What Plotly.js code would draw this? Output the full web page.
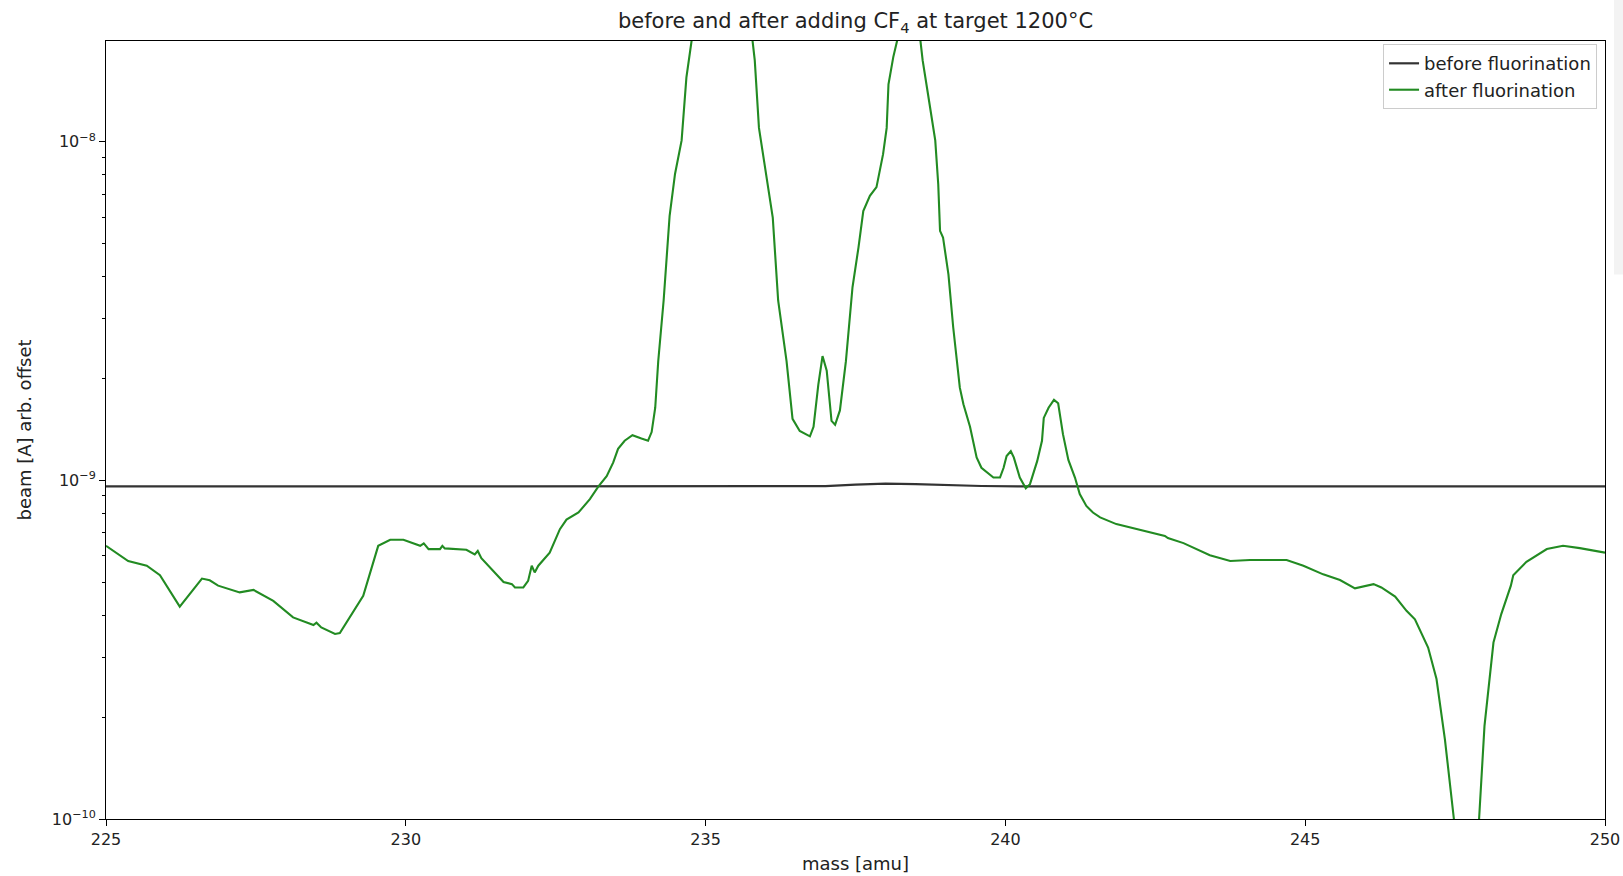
<!DOCTYPE html>
<html>
<head>
<meta charset="utf-8">
<script src="https://cdn.plot.ly/plotly-3.0.1.min.js"></script>
<style>html,body{margin:0;padding:0;background:#fff;}#chart{width:1623px;height:876px;}</style>
</head>
<body>
<div id="chart"></div>
<script>
// before fluorination
const massBefore = [225.0, 237.0, 237.5, 238.0, 238.5, 239.0, 239.6, 240.2, 250.0];
const beamBefore = [9.60e-10, 9.62e-10, 9.72e-10, 9.78e-10, 9.75e-10, 9.68e-10, 9.63e-10, 9.60e-10, 9.60e-10];

// after fluorination
const massAfter = [
  225.00, 225.37, 225.68, 225.90, 226.23, 226.60, 226.73, 226.87, 227.23, 227.46,
  227.79, 228.12, 228.46, 228.51, 228.59, 228.82, 228.90, 229.29, 229.54, 229.74,
  229.96, 230.24, 230.30, 230.38, 230.57, 230.61, 230.65, 231.01, 231.15, 231.20,
  231.26, 231.57, 231.63, 231.77, 231.82, 231.96, 232.04, 232.10, 232.15, 232.21,
  232.40, 232.57, 232.68, 232.88, 233.07, 233.21, 233.35, 233.46, 233.54, 233.65,
  233.78, 233.93, 234.04, 234.10, 234.16, 234.21, 234.30, 234.40, 234.49, 234.60,
  234.63, 234.68, 234.77, 235.00, 235.30, 235.60, 235.78, 235.82, 235.89, 235.99,
  236.12, 236.21, 236.35, 236.45, 236.57, 236.74, 236.80, 236.88, 236.95, 237.02,
  237.10, 237.16, 237.24, 237.34, 237.45, 237.55, 237.63, 237.74, 237.85, 237.96,
  238.02, 238.05, 238.13, 238.20, 238.39, 238.58, 238.62, 238.71, 238.83, 238.88,
  238.91, 238.96, 239.05, 239.13, 239.24, 239.30, 239.41, 239.52, 239.60, 239.80,
  239.91, 239.97, 240.02, 240.09, 240.14, 240.24, 240.34, 240.41, 240.53, 240.61,
  240.64, 240.72, 240.81, 240.88, 240.96, 241.05, 241.16, 241.24, 241.35, 241.46,
  241.58, 241.85, 242.24, 242.66, 242.71, 242.97, 243.41, 243.75, 244.08, 244.41,
  244.69, 244.97, 245.30, 245.58, 245.83, 246.14, 246.27, 246.50, 246.69, 246.83,
  247.05, 247.19, 247.33, 247.48, 247.68, 247.90, 247.99, 248.14, 248.27, 248.43,
  248.47, 248.69, 249.03, 249.30, 249.58, 250.00
];
const beamAfter = [
  6.41e-10, 5.78e-10, 5.60e-10, 5.25e-10, 4.24e-10, 5.13e-10, 5.07e-10, 4.89e-10, 4.67e-10, 4.75e-10,
  4.41e-10, 3.94e-10, 3.74e-10, 3.80e-10, 3.68e-10, 3.52e-10, 3.54e-10, 4.56e-10, 6.41e-10, 6.68e-10,
  6.68e-10, 6.41e-10, 6.52e-10, 6.27e-10, 6.27e-10, 6.41e-10, 6.30e-10, 6.24e-10, 6.05e-10, 6.19e-10,
  5.89e-10, 5.13e-10, 5.01e-10, 4.94e-10, 4.83e-10, 4.83e-10, 5.05e-10, 5.60e-10, 5.35e-10, 5.60e-10,
  6.12e-10, 7.18e-10, 7.66e-10, 8.04e-10, 8.81e-10, 9.59e-10, 1.03e-9, 1.13e-9, 1.24e-9, 1.31e-9,
  1.36e-9, 1.33e-9, 1.31e-9, 1.39e-9, 1.64e-9, 2.25e-9, 3.40e-9, 6.05e-9, 8.04e-9, 1.01e-8,
  1.18e-8, 1.55e-8, 2.01e-8, 3.5e-8, 4.5e-8, 3.2e-8, 2.01e-8, 1.74e-8, 1.10e-8, 8.41e-9,
  5.98e-9, 3.40e-9, 2.25e-9, 1.52e-9, 1.40e-9, 1.35e-9, 1.44e-9, 1.92e-9, 2.33e-9, 2.11e-9,
  1.50e-9, 1.46e-9, 1.61e-9, 2.25e-9, 3.72e-9, 4.88e-9, 6.25e-9, 6.93e-9, 7.35e-9, 9.20e-9,
  1.10e-8, 1.48e-8, 1.78e-8, 2.01e-8, 2.8e-8, 2.01e-8, 1.74e-8, 1.38e-8, 1.01e-8, 7.50e-9,
  5.46e-9, 5.22e-9, 4.06e-9, 2.83e-9, 1.88e-9, 1.68e-9, 1.44e-9, 1.17e-9, 1.09e-9, 1.02e-9,
  1.02e-9, 1.09e-9, 1.18e-9, 1.22e-9, 1.17e-9, 1.02e-9, 9.48e-10, 9.75e-10, 1.14e-9, 1.31e-9,
  1.53e-9, 1.64e-9, 1.73e-9, 1.69e-9, 1.37e-9, 1.15e-9, 1.02e-9, 9.12e-10, 8.41e-10, 8.04e-10,
  7.78e-10, 7.43e-10, 7.14e-10, 6.86e-10, 6.76e-10, 6.53e-10, 6.01e-10, 5.78e-10, 5.82e-10, 5.82e-10,
  5.82e-10, 5.60e-10, 5.28e-10, 5.08e-10, 4.80e-10, 4.94e-10, 4.83e-10, 4.54e-10, 4.12e-10, 3.89e-10,
  3.21e-10, 2.59e-10, 1.72e-10, 1.00e-10, 3.5e-11, 1.00e-10, 1.88e-10, 3.32e-10, 4.03e-10, 4.89e-10,
  5.25e-10, 5.75e-10, 6.27e-10, 6.41e-10, 6.31e-10, 6.12e-10
];

const xTicks = [225, 230, 235, 240, 245, 250];
const yTicks = [1e-10, 1e-9, 1e-8];
const yMinorTicks = [2e-10,3e-10,4e-10,5e-10,6e-10,7e-10,8e-10,9e-10,2e-9,3e-9,4e-9,5e-9,6e-9,7e-9,8e-9,9e-9];

const FONT = "DejaVu Sans, sans-serif";

const traces = [
  {x: massBefore, y: beamBefore, type: 'scatter', mode: 'lines', name: 'before fluorination',
   line: {color: '#333333', width: 2.2}},
  {x: massAfter, y: beamAfter, type: 'scatter', mode: 'lines', name: 'after fluorination',
   line: {color: '#228b22', width: 2.1}}
];

const layout = {
  width: 1623, height: 876,
  margin: {l: 106, r: 18, t: 41, b: 57},
  paper_bgcolor: '#ffffff', plot_bgcolor: '#ffffff',
  font: {family: FONT, color: '#222', size: 15},
  showlegend: true,
  title: {text: 'before and after adding CF<sub>4</sub> at target 1200°C', font: {family: FONT, size: 21, color: '#222'},
          xref: 'paper', x: 0.5, xanchor: 'center', yref: 'container', y: 0.976, yanchor: 'middle'},
  xaxis: {
    range: [225, 250], tickmode: 'array', tickvals: xTicks, ticktext: xTicks.map(String),
    ticks: 'outside', ticklen: 6, tickwidth: 1, tickcolor: '#000',
    showline: true, mirror: true, linecolor: '#000', linewidth: 1,
    showgrid: false, zeroline: false,
    tickfont: {family: FONT, size: 16, color: '#222'},
    title: {text: 'mass [amu]', font: {family: FONT, size: 18, color: '#222'}, standoff: 9}
  },
  yaxis: {
    type: 'log', range: [-10, -7.702], tickmode: 'array', tickvals: yTicks,
    ticktext: ['10<sup>−10</sup>', '10<sup>−9</sup>', '10<sup>−8</sup>'],
    ticks: 'outside', ticklen: 6, tickwidth: 1, tickcolor: '#000',
    minor: {tickmode: 'array', tickvals: yMinorTicks, ticks: 'outside', ticklen: 3.5, tickwidth: 1, tickcolor: '#000', showgrid: false},
    showline: true, mirror: true, linecolor: '#000', linewidth: 1,
    showgrid: false, zeroline: false,
    tickfont: {family: FONT, size: 16, color: '#222'},
    title: {text: 'beam [A] arb. offset', font: {family: FONT, size: 18, color: '#222'}, standoff: 15}
  },
  legend: {
    x: 0.9947, xanchor: 'right', y: 0.996, yanchor: 'top',
    bgcolor: '#ffffff', bordercolor: '#cccccc', borderwidth: 1,
    font: {family: FONT, size: 18, color: '#222'},
    tracegroupgap: 0
  },
  shapes: [
    {type: 'rect', xref: 'paper', yref: 'paper', x0: 1.006, x1: 1.02, y0: 0.70, y1: 1.06,
     fillcolor: '#f3f3f3', line: {width: 0}, layer: 'below'}
  ]
};

Plotly.newPlot('chart', traces, layout, {displayModeBar: false, responsive: false});
</script>
</body>
</html>
